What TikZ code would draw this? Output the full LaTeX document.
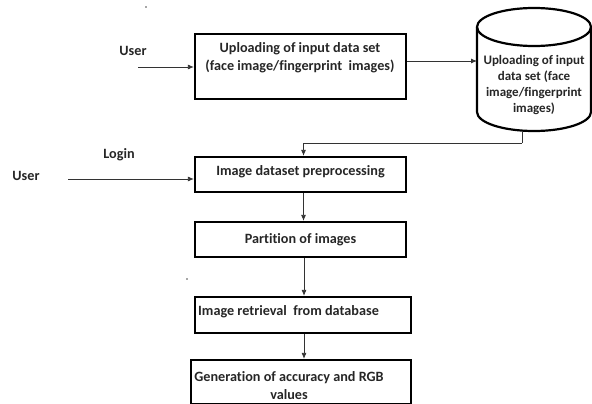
\documentclass[tikz,border=0pt]{standalone}
\usepackage{fontspec}
\setmainfont[Ligatures=NoCommon]{Carlito}
\usetikzlibrary{arrows.meta}
\begin{document}
\begin{tikzpicture}[x=1pt,y=-1pt,
  every node/.style={font=\bfseries\fontsize{14.2}{18}\selectfont, text=black!85},
  box/.style={draw=black, line width=2.2pt, inner sep=0pt},
  txt/.style={inner sep=0pt, align=center},
  drumtxt/.style={txt, font=\bfseries\fontsize{13}{16}\selectfont},
  arr/.style={draw=black!80, line width=0.8pt, -{Latex[length=6pt,width=5pt]}},
  plain/.style={draw=black!80, line width=0.8pt},
  drum/.style={draw=black, line width=2.2pt}]
\useasboundingbox (0,0) rectangle (592,404);

% process boxes
\node[box, minimum width=211pt, minimum height=65pt] (b1) at (300.5,66.5) {};
\node[txt] (b1t) at (300,58) {Uploading of input data set\\(face image/fingerprint\ \ images)};
\node[box, minimum width=211pt, minimum height=35pt] (b2) at (300.5,174.5) {};
\node[txt] (b2t) at (300.5,172) {Image dataset preprocessing};
\node[box, minimum width=211pt, minimum height=35pt] (b3) at (300.5,239.5) {};
\node[txt] (b3t) at (300.5,240) {Partition of images};
\node[box, minimum width=216pt, minimum height=36pt] (b4) at (303,315) {};
\node[txt, anchor=west] (b4t) at (198,312) {Image retrieval\ \ from database};
\node[box, minimum width=220pt, minimum height=44pt] (b5) at (301,382) {};
\node[txt] (b5t) at (289,386) {Generation of accuracy and RGB\\values};

% database drum
\draw[drum] (534,27) ellipse [x radius=57, y radius=19];
\draw[drum] (477,27) -- (477,112) arc [start angle=180, end angle=0, x radius=57, y radius=19] -- (591,27);
\node[drumtxt] (cyl) at (534,85) {Uploading of input\\data set (face\\image/fingerprint\\images)};
\coordinate (cylW) at (477,61);
\coordinate (cylB) at (522,131);

% outside labels
\node (u1) at (133,51) {User};
\node (u2) at (26,176) {User};
\node (login) at (119,155) {Login};
\coordinate (u1e) at (138,67);
\coordinate (u2e) at (68,179);

% connectors
\draw[arr] (u1e) -- (b1.west |- u1e);
\draw[arr] (b1.east |- cylW) -- (cylW);
\draw[plain] (cylB) -- ++(0,12) coordinate (cylC);
\draw[arr] (cylC) -| ([xshift=3pt]b2.north);
\draw[arr] (u2e) -- (b2.west |- u2e);
\draw[arr] ([xshift=3pt]b2.south) -- ([xshift=3pt]b3.north);
\draw[arr] ([xshift=3.5pt]b3.south) -- ([xshift=1pt]b4.north);
\draw[arr] ([xshift=1pt]b4.south) -- ([xshift=3pt]b5.north);

% stray specks
\fill[black!70] (146,7) circle (0.8);
\fill[black!70] (187,279) circle (0.8);
\end{tikzpicture}
\end{document}
